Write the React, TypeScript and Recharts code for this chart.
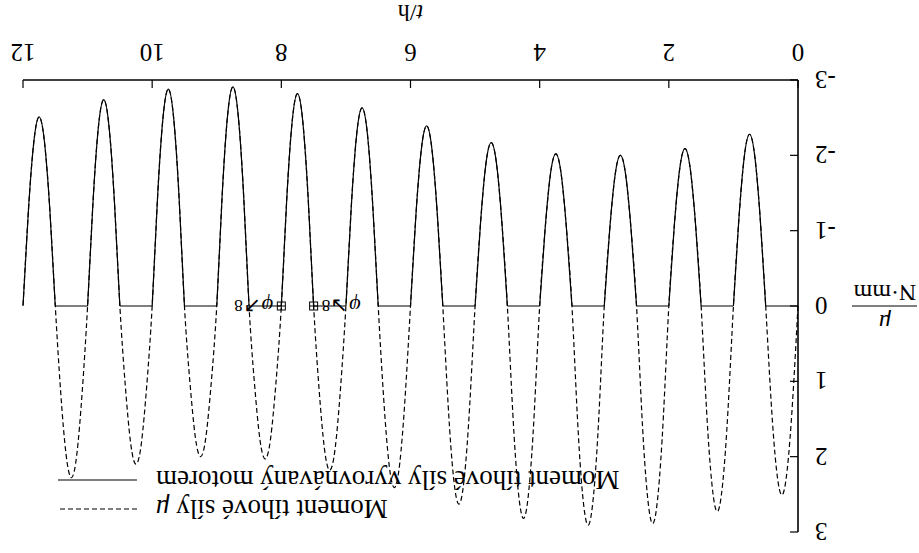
import React from "react";
import { LineChart, Line, XAxis, YAxis, Legend, ReferenceDot } from "recharts";

// The reference picture is printed upside down, so the whole chart is drawn
// normally and then turned by 180 degrees.

const X_TICKS = [0, 2, 4, 6, 8, 10, 12];
const Y_TICKS = [-3, -2, -1, 0, 1, 2, 3];

// moment μ (N·mm), one row per hour, one sample every 5 minutes
const MU_ROWS = [
  [0, 1.26, 2.17, 2.51, 2.17, 1.26, 0, -1.14, -1.97, -2.28, -1.97, -1.14],
  [0, 1.37, 2.36, 2.73, 2.36, 1.37, 0, -1.05, -1.81, -2.09, -1.81, -1.05],
  [0, 1.45, 2.5, 2.89, 2.5, 1.45, 0, -1.0, -1.73, -2.0, -1.73, -1.0],
  [0, 1.46, 2.52, 2.91, 2.52, 1.46, 0, -1.01, -1.75, -2.02, -1.75, -1.01],
  [0, 1.41, 2.44, 2.82, 2.44, 1.41, 0, -1.09, -1.88, -2.17, -1.88, -1.09],
  [0, 1.32, 2.28, 2.63, 2.28, 1.32, 0, -1.2, -2.07, -2.39, -2.07, -1.2],
  [0, 1.21, 2.09, 2.41, 2.09, 1.21, 0, -1.32, -2.28, -2.63, -2.28, -1.32],
  [0, 1.09, 1.89, 2.18, 1.89, 1.09, 0, -1.41, -2.44, -2.82, -2.44, -1.41],
  [0, 1.02, 1.76, 2.03, 1.76, 1.02, 0, -1.46, -2.52, -2.91, -2.52, -1.46],
  [0, 1.0, 1.73, 2.0, 1.73, 1.0, 0, -1.44, -2.49, -2.88, -2.49, -1.44],
  [0, 1.05, 1.82, 2.1, 1.82, 1.05, 0, -1.37, -2.37, -2.74, -2.37, -1.37],
  [0, 1.14, 1.97, 2.28, 1.97, 1.14, 0, -1.26, -2.17, -2.51, -2.17, -1.26],
];
const MU_END = 0;
const SAMPLES_PER_HOUR = 12;

const MARKER_T = [7.5, 8];
const MARKER_ARROWS = ["↘", "↗"];
const MARKER_SIDE = ["left", "right"];

const NAME_MU = "Moment tíhové síly μ";
const NAME_MOTOR = "Moment tíhové síly vyrovnávaný motorem";

const muValues = [...MU_ROWS.flat(), MU_END];
const data = muValues.map((mu, i) => ({
  t: i / SAMPLES_PER_HOUR,
  mu,
  // solid curve: the part the motor takes over (negative lobes) and zero elsewhere
  arc: mu <= 0 ? mu : null,
  flat: mu >= 0 ? 0 : null,
}));

const FONT = "'Liberation Serif', 'Times New Roman', serif";

function XTitle(props: any) {
  const vb = props.viewBox;
  return (
    <text x={vb.x + vb.width / 2} y={vb.y + 75} textAnchor="middle" fontSize={24} fill="#000">
      <tspan fontStyle="italic">t</tspan>/h
    </text>
  );
}

function YTitle(props: any) {
  const vb = props.viewBox;
  const cx = vb.x - 27;
  const cy = vb.y + vb.height / 2;
  return (
    <g>
      <text x={cx} y={cy - 9} textAnchor="middle" fontSize={24} fontStyle="italic" fill="#000">
        μ
      </text>
      <line x1={cx - 32} x2={cx + 33} y1={cy} y2={cy} stroke="#000" strokeWidth={1} />
      <text x={cx} y={cy + 21} textAnchor="middle" fontSize={24} fill="#000">
        N·mm
      </text>
    </g>
  );
}

const markerShape = (arrow: string, side: string) => (props: any) => {
  const { cx, cy } = props;
  const s = 4;
  return (
    <g>
      <rect x={cx - s} y={cy - s} width={2 * s} height={2 * s} fill="none" stroke="#000" strokeWidth={1} />
      <line x1={cx - s} x2={cx + s} y1={cy} y2={cy} stroke="#000" strokeWidth={1} />
      <line x1={cx} x2={cx} y1={cy - s} y2={cy + s} stroke="#000" strokeWidth={1} />
      <text
        x={side === "left" ? cx - s - 4 : cx + s + 4}
        y={cy}
        textAnchor={side === "left" ? "end" : "start"}
        dominantBaseline="central"
        fontSize={17}
        fill="#000"
      >
        <tspan fontStyle="italic" fontSize={21}>φ</tspan>
        <tspan dx={1} fontSize={21}>{arrow}</tspan>
        <tspan>8</tspan>
      </text>
    </g>
  );
};

function LegendBox(props: any) {
  const items = (props.payload || [])
    .filter((p: any) => p.type !== "none")
    .sort((a: any, b: any) => (b.payload?.strokeDasharray ? 1 : 0) - (a.payload?.strokeDasharray ? 1 : 0));
  return (
    <div style={{ position: "relative", height: 0, fontFamily: FONT }}>
      {items.map((p: any, i: number) => {
        const cy = 44 + i * 28.5;
        const dashed = p.payload && p.payload.strokeDasharray;
        const parts = String(p.value).split("μ");
        return (
          <div key={i}>
            <div
              style={{
                position: "absolute",
                right: 156,
                top: cy - 15,
                height: 30,
                lineHeight: "30px",
                fontSize: 27,
                whiteSpace: "nowrap",
                color: "#000",
              }}
            >
              {parts[0]}
              {parts.length > 1 && <i>μ</i>}
            </div>
            <svg style={{ position: "absolute", left: 782, top: cy - 2 }} width={79} height={4}>
              <line x1={0} x2={79} y1={2} y2={2} stroke="#000" strokeWidth={1.2} strokeDasharray={dashed || undefined} />
            </svg>
          </div>
        );
      })}
    </div>
  );
}

export default function App() {
  const axisLine = { stroke: "#000", strokeWidth: 1.6 };
  const tickLine = { stroke: "#000", strokeWidth: 1.2 };
  return (
    <div
      style={{
        position: "absolute",
        left: 0,
        top: 0,
        width: 919,
        height: 553,
        background: "#fff",
        transform: "rotate(180deg)",
        fontFamily: FONT,
      }}
    >
      <LineChart width={919} height={553} data={data} margin={{ top: 21, right: 23, bottom: 40, left: 61 }}>
        <XAxis
          dataKey="t"
          type="number"
          domain={[0, 12]}
          ticks={X_TICKS}
          interval={0}
          height={40}
          tickSize={-8}
          tickMargin={26}
          axisLine={axisLine}
          tickLine={tickLine}
          tick={{ fill: "#000", fontSize: 25 }}
          label={<XTitle />}
        />
        <XAxis
          xAxisId="top"
          orientation="top"
          dataKey="t"
          type="number"
          domain={[0, 12]}
          ticks={X_TICKS}
          interval={0}
          height={0}
          tickSize={-8}
          axisLine={axisLine}
          tickLine={tickLine}
          tick={false}
        />
        <YAxis
          type="number"
          domain={[-3, 3]}
          ticks={Y_TICKS}
          interval={0}
          width={60}
          tickSize={-8}
          tickMargin={25}
          axisLine={axisLine}
          tickLine={tickLine}
          tick={{ fill: "#000", fontSize: 25 }}
          label={<YTitle />}
        />
        <YAxis
          yAxisId="right"
          orientation="right"
          type="number"
          domain={[-3, 3]}
          ticks={Y_TICKS}
          interval={0}
          width={0}
          tickSize={-8}
          axisLine={axisLine}
          tickLine={tickLine}
          tick={false}
        />
        <Legend
          verticalAlign="top"
          align="left"
          content={<LegendBox />}
          wrapperStyle={{ top: 0, left: 0, width: 919, height: 0 }}
        />
        <Line
          dataKey="mu"
          name={NAME_MU}
          type="natural"
          stroke="#000"
          strokeWidth={1.2}
          strokeDasharray="5 3"
          dot={false}
          activeDot={false}
          isAnimationActive={false}
        />
        <Line
          dataKey="flat"
          legendType="none"
          type="linear"
          stroke="#000"
          strokeWidth={1.2}
          dot={false}
          activeDot={false}
          isAnimationActive={false}
        />
        <Line
          dataKey="arc"
          name={NAME_MOTOR}
          type="natural"
          stroke="#000"
          strokeWidth={1.2}
          dot={false}
          activeDot={false}
          isAnimationActive={false}
        />
        {MARKER_T.map((t, i) => (
          <ReferenceDot
            key={i}
            x={t}
            y={0}
            r={4}
            shape={markerShape(MARKER_ARROWS[i], MARKER_SIDE[i])}
          />
        ))}
      </LineChart>
    </div>
  );
}
